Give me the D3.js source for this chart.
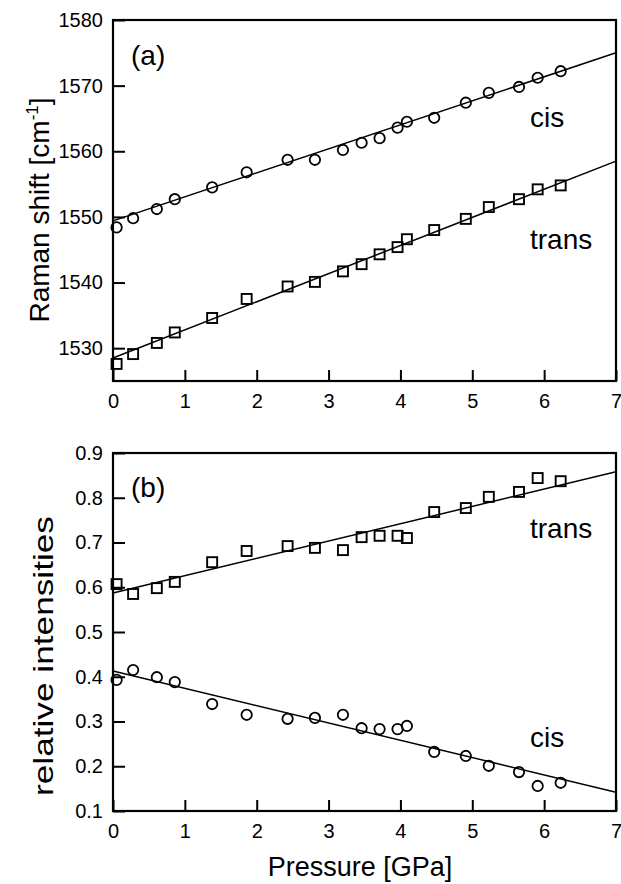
<!DOCTYPE html>
<html>
<head>
<meta charset="utf-8">
<script src="https://cdn.jsdelivr.net/npm/d3@7"></script>
<style>
  html, body { margin: 0; padding: 0; background: #fff; }
  svg { display: block; font-family: "Liberation Sans", Arial, Helvetica, sans-serif; }
</style>
</head>
<body>
<svg id="chart" width="621" height="884"></svg>
<script>
// ---- data ----
const pressure = [0.05, 0.28, 0.61, 0.86, 1.38, 1.86, 2.43, 2.81, 3.2, 3.46, 3.71, 3.96, 4.09, 4.47, 4.91, 5.23, 5.65, 5.91, 6.23];

// (a) Raman shift [cm-1]
const cisShift   = [1548.4, 1549.8, 1551.2, 1552.7, 1554.5, 1556.8, 1558.7, 1558.7, 1560.2, 1561.3, 1562.0, 1563.6, 1564.5, 1565.1, 1567.4, 1568.9, 1569.8, 1571.2, 1572.2];
const transShift = [1527.6, 1529.1, 1530.8, 1532.4, 1534.6, 1537.5, 1539.4, 1540.1, 1541.7, 1542.8, 1544.3, 1545.4, 1546.6, 1548.0, 1549.7, 1551.5, 1552.7, 1554.2, 1554.8];

// (b) relative intensities
const transInt = [0.607, 0.585, 0.598, 0.612, 0.656, 0.681, 0.692, 0.688, 0.683, 0.712, 0.715, 0.715, 0.710, 0.768, 0.777, 0.802, 0.813, 0.844, 0.837];
const cisInt   = [0.393, 0.415, 0.399, 0.388, 0.339, 0.315, 0.306, 0.308, 0.315, 0.285, 0.283, 0.283, 0.290, 0.232, 0.223, 0.201, 0.187, 0.156, 0.163];

// linear fits (end points at 0 and 7 GPa)
const fitX          = [0, 7];
const cisShiftFit   = [1549.4, 1575.0];
const transShiftFit = [1528.5, 1558.5];
const transIntFit   = [0.587, 0.858];
const cisIntFit     = [0.413, 0.142];

// ticks
const xTicks       = [0, 1, 2, 3, 4, 5, 6, 7];
const shiftTicks   = [1530, 1540, 1550, 1560, 1570, 1580];
const intTicks     = [0.1, 0.2, 0.3, 0.4, 0.5, 0.6, 0.7, 0.8, 0.9];

// ---- drawing ----
const svg = d3.select("#chart");
const left = 113, right = 616;
const FONT = '"Liberation Sans", Arial, Helvetica, sans-serif';

function panel(cfg) {
  const g = svg.append("g");
  const x = d3.scaleLinear().domain([0, 7]).range([left, right]);
  const y = d3.scaleLinear().domain(cfg.yDomain).range([cfg.bottom, cfg.top]);

  // axes
  const xa = g.append("g").attr("transform", `translate(0,${cfg.bottom})`)
    .call(d3.axisBottom(x).tickValues(xTicks).tickFormat(d3.format("d")).tickSize(-11).tickPadding(13));
  const ya = g.append("g").attr("transform", `translate(${left},0)`)
    .call(d3.axisLeft(y).tickValues(cfg.yTicks).tickFormat(cfg.yFormat).tickSize(-12).tickPadding(10));
  [xa, ya].forEach(a => {
    a.attr("font-size", 20).attr("font-family", FONT);
    a.select(".domain").remove();
    a.selectAll(".tick line").attr("stroke", "#000").attr("stroke-width", 2);
    a.selectAll(".tick text").attr("fill", "#000")
      .attr("font-size", 20).attr("font-family", FONT);
  });

  // frame
  g.append("rect").attr("x", left).attr("y", cfg.top)
    .attr("width", right - left).attr("height", cfg.bottom - cfg.top)
    .attr("fill", "none").attr("stroke", "#000").attr("stroke-width", 2.2);

  // fit lines
  const line = d3.line().x(d => x(d[0])).y(d => y(d[1]));
  cfg.fits.forEach(f => {
    g.append("path").datum(d3.zip(fitX, f)).attr("d", line)
      .attr("fill", "none").attr("stroke", "#000").attr("stroke-width", 1.5);
  });

  // squares
  g.append("g").selectAll("rect").data(d3.zip(pressure, cfg.squares)).join("rect")
    .attr("x", d => x(d[0]) - 5).attr("y", d => y(d[1]) - 5)
    .attr("width", 10).attr("height", 10)
    .attr("fill", "none").attr("stroke", "#000").attr("stroke-width", 1.9);
  // circles
  g.append("g").selectAll("circle").data(d3.zip(pressure, cfg.circles)).join("circle")
    .attr("cx", d => x(d[0])).attr("cy", d => y(d[1])).attr("r", 5.2)
    .attr("fill", "none").attr("stroke", "#000").attr("stroke-width", 1.8);

  // text labels
  cfg.labels.forEach(l => {
    g.append("text").attr("x", l[1]).attr("y", l[2]).text(l[0])
      .attr("font-size", 28).attr("font-family", FONT).attr("fill", "#000");
  });
  return g;
}

panel({
  top: 20, bottom: 381, yDomain: [1525, 1580], yTicks: shiftTicks, yFormat: d3.format("d"),
  fits: [cisShiftFit, transShiftFit], circles: cisShift, squares: transShift,
  labels: [["(a)", 131, 65], ["cis", 530, 127], ["trans", 530, 249]]
});
panel({
  top: 453, bottom: 811, yDomain: [0.1, 0.9], yTicks: intTicks, yFormat: d3.format(".1f"),
  fits: [transIntFit, cisIntFit], circles: cisInt, squares: transInt,
  labels: [["(b)", 131, 497], ["trans", 530, 538], ["cis", 530, 747]]
});

// axis titles
const yt1 = svg.append("text").attr("transform", "translate(49,210) rotate(-90)")
  .attr("text-anchor", "middle").attr("font-size", 28).attr("font-family", FONT).attr("fill", "#000");
yt1.append("tspan").text("Raman shift [cm");
yt1.append("tspan").text("-1").attr("font-size", 17).attr("dy", -11);
yt1.append("tspan").text("]").attr("dy", 11);

svg.append("text").attr("transform", "translate(53,656) rotate(-90)")
  .attr("text-anchor", "middle").attr("font-size", 28).attr("font-family", FONT).attr("fill", "#000")
  .attr("textLength", 280).attr("lengthAdjust", "spacingAndGlyphs")
  .text("relative intensities");

svg.append("text").attr("x", 360).attr("y", 876)
  .attr("text-anchor", "middle").attr("font-size", 27).attr("font-family", FONT).attr("fill", "#000")
  .text("Pressure [GPa]");
</script>
</body>
</html>
